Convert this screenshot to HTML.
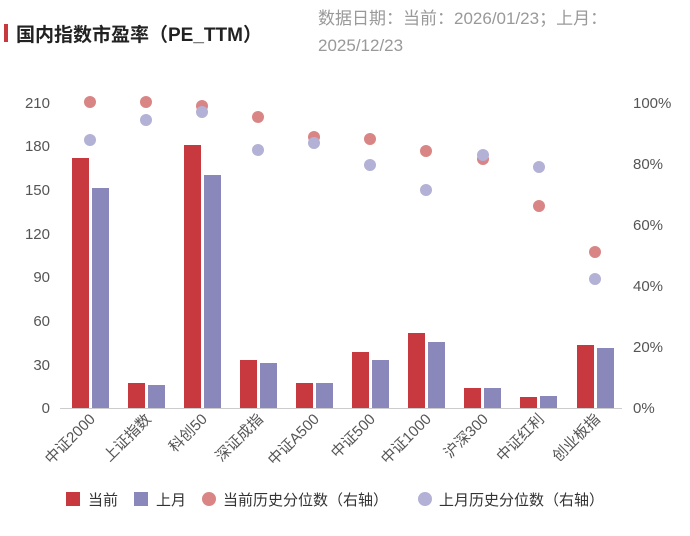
<!DOCTYPE html>
<html><head><meta charset="utf-8"><style>
body{margin:0;background:#fff;width:690px;height:531px;overflow:hidden;font-family:"Liberation Sans","Noto Sans CJK SC",sans-serif}
</style></head><body>
<svg width="690" height="531" xmlns="http://www.w3.org/2000/svg" font-family="Liberation Sans, Noto Sans CJK SC, sans-serif">
<rect x="4" y="24" width="4" height="18" fill="#c8393f"/>
<text x="16" y="41" font-size="19" font-weight="bold" fill="#222">国内指数市盈率（PE_TTM）</text>
<text x="318" y="24" font-size="17" fill="#999">数据日期：当前：2026/01/23；上月：</text>
<text x="318" y="51" font-size="17" fill="#999">2025/12/23</text>
<g font-size="15" fill="#555" text-anchor="end">
<text x="50" y="413">0</text><text x="50" y="370">30</text><text x="50" y="326">60</text><text x="50" y="282">90</text><text x="50" y="239">120</text><text x="50" y="195">150</text><text x="50" y="151">180</text><text x="50" y="108">210</text>
</g>
<g font-size="15" fill="#555" text-anchor="start">
<text x="633" y="413">0%</text><text x="633" y="352">20%</text><text x="633" y="291">40%</text><text x="633" y="230">60%</text><text x="633" y="169">80%</text><text x="633" y="108">100%</text>
</g>
<line x1="60" y1="408.5" x2="622" y2="408.5" stroke="#ccc"/>
<g id="bars"></g>
<g fill="#c8393f">
<rect x="72" y="158" width="17" height="250"/><rect x="128" y="383" width="17" height="25"/><rect x="184" y="145" width="17" height="263"/><rect x="240" y="360" width="17" height="48"/><rect x="296" y="383" width="17" height="25"/><rect x="352" y="352" width="17" height="56"/><rect x="408" y="333" width="17" height="75"/><rect x="464" y="388" width="17" height="20"/><rect x="520" y="397" width="17" height="11"/><rect x="577" y="345" width="17" height="63"/>
</g>
<g fill="#8a87bb">
<rect x="92" y="188" width="17" height="220"/><rect x="148" y="385" width="17" height="23"/><rect x="204" y="175" width="17" height="233"/><rect x="260" y="363" width="17" height="45"/><rect x="316" y="383" width="17" height="25"/><rect x="372" y="360" width="17" height="48"/><rect x="428" y="342" width="17" height="66"/><rect x="484" y="388" width="17" height="20"/><rect x="540" y="396" width="17" height="12"/><rect x="597" y="348" width="17" height="60"/>
</g>
<g fill="#d98585">
<circle cx="90" cy="102" r="6"/><circle cx="146" cy="102" r="6"/><circle cx="202" cy="106" r="6"/><circle cx="258" cy="117" r="6"/><circle cx="314" cy="137" r="6"/><circle cx="370" cy="139" r="6"/><circle cx="426" cy="151" r="6"/><circle cx="483" cy="159" r="6"/><circle cx="539" cy="206" r="6"/><circle cx="595" cy="252" r="6"/>
</g>
<g fill="#b3b1d5">
<circle cx="90" cy="140" r="6"/><circle cx="146" cy="120" r="6"/><circle cx="202" cy="112" r="6"/><circle cx="258" cy="150" r="6"/><circle cx="314" cy="143" r="6"/><circle cx="370" cy="165" r="6"/><circle cx="426" cy="190" r="6"/><circle cx="483" cy="155" r="6"/><circle cx="539" cy="167" r="6"/><circle cx="595" cy="279" r="6"/>
</g>
<g font-size="15" fill="#555" text-anchor="end">
<text transform="translate(96,420) rotate(-45)">中证2000</text>
<text transform="translate(152,420) rotate(-45)">上证指数</text>
<text transform="translate(208,420) rotate(-45)">科创50</text>
<text transform="translate(264,420) rotate(-45)">深证成指</text>
<text transform="translate(320,420) rotate(-45)">中证A500</text>
<text transform="translate(376,420) rotate(-45)">中证500</text>
<text transform="translate(432,420) rotate(-45)">中证1000</text>
<text transform="translate(489,420) rotate(-45)">沪深300</text>
<text transform="translate(545,420) rotate(-45)">中证红利</text>
<text transform="translate(601,420) rotate(-45)">创业板指</text>
</g>
<g font-size="15" fill="#333">
<rect x="66" y="492" width="14" height="14" fill="#c8393f"/><text x="88" y="505">当前</text>
<rect x="134" y="492" width="14" height="14" fill="#8a87bb"/><text x="156" y="505">上月</text>
<circle cx="209" cy="499" r="7" fill="#d98585"/><text x="223" y="505">当前历史分位数（右轴）</text>
<circle cx="425" cy="499" r="7" fill="#b3b1d5"/><text x="439" y="505">上月历史分位数（右轴）</text>
</g>
</svg>
</body></html>
